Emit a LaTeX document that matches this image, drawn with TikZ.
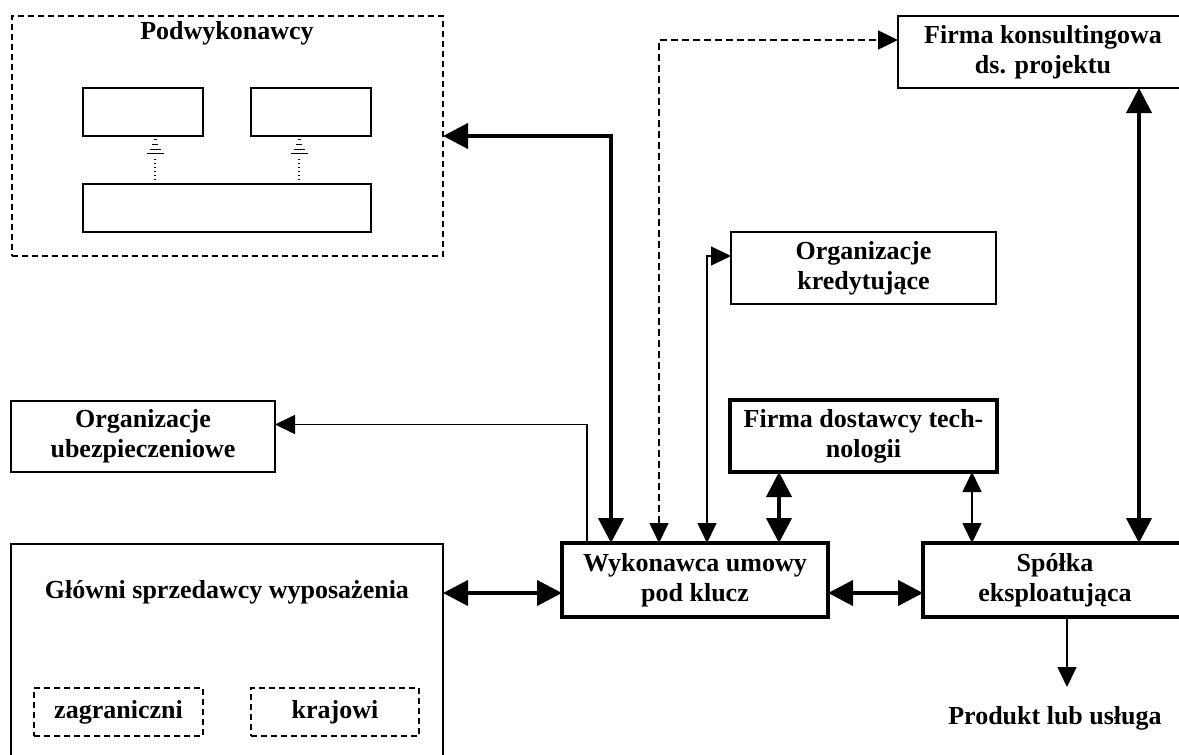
\documentclass[tikz,border=0pt]{standalone}
\usepackage{fontspec}
\setmainfont{Liberation Serif}
\usetikzlibrary{arrows.meta}

\begin{document}
\begin{tikzpicture}[x=1pt,y=-1pt,>={Triangle[length=20pt,width=19pt]},
    lab/.style={inner sep=0pt,align=center,font=\bfseries\fontsize{26}{30}\selectfont},
    box/.style={lab,draw,rectangle,line width=2pt,outer sep=0pt},
    thickbox/.style={box,line width=4pt},
    dashbox/.style={box,dash pattern=on 6pt off 4pt},
    thin/.style={line width=1.6pt},
    heavy/.style={line width=4pt,>={Triangle[length=25pt,width=25pt]}},
    dashlink/.style={line width=1.6pt,dash pattern=on 7pt off 4pt}]
    \useasboundingbox (0,0) rectangle (1179,755);

    \node[dashbox,minimum width=431pt,minimum height=240pt] (sub) at (227.5,136) {};
    \node[lab] (subt) at (227,33) {Podwykonawcy};
    \node[box,minimum width=120pt,minimum height=48pt] (sA) at (143,112) {};
    \node[box,minimum width=120pt,minimum height=48pt] (sB) at (311,112) {};
    \node[box,minimum width=288pt,minimum height=48pt] (sC) at (227,208) {};

    \node[box,minimum width=290pt,minimum height=72pt] (konsult) at (1043,52) {Firma konsultingowa\\ds. projektu};
    \node[box,minimum width=265pt,minimum height=72pt] (kred) at (863.5,268) {Organizacje\\kredytujące};
    \node[thickbox,minimum width=267pt,minimum height=72pt] (tech) at (863.5,436) {Firma dostawcy tech-\\nologii};
    \node[box,minimum width=264pt,minimum height=71pt] (ubezp) at (143,436.5) {Organizacje\\ubezpieczeniowe};
    \node[box,minimum width=432pt,minimum height=246pt] (glowni) at (227,667) {};
    \node[lab] (glownit) at (227,592) {Główni sprzedawcy wyposażenia};
    \node[dashbox,minimum width=169pt,minimum height=48pt] (zagr) at (118.5,712) {zagraniczni};
    \node[dashbox,minimum width=168pt,minimum height=48pt] (kraj) at (335,712) {krajowi};
    \node[thickbox,minimum width=266pt,minimum height=74pt] (wyk) at (695,580) {Wykonawca umowy\\pod klucz};
    \node[thickbox,minimum width=264pt,minimum height=74pt] (spolka) at (1055,580) {Spółka\\eksploatująca};
    \node[lab] (produkt) at (1055,718) {Produkt lub usługa};
    \coordinate (out) at (1067,687);

    \foreach \s/\d in {sA/12,sB/-12} {
        \draw[line width=1.2pt,dash pattern=on 1.5pt off 2.5pt] ([xshift=\d pt]\s.south |- sC.north) -- ++(0,-26);
        \foreach \h/\w in {3/3,8/6,13/11,17/17}
            \draw[line width=1pt] ([xshift=\d pt]\s.south) ++(-\w/2,\h) -- ++(\w,0);
    }

    \draw[heavy,<->] (sub.east) -| ([xshift=-84pt]wyk.north);
    \draw[dashlink,<->] ([xshift=-36pt]wyk.north) |- ([yshift=12pt]konsult.west);
    \draw[thin,->] ([xshift=-108pt]wyk.north) |- ([yshift=12pt]ubezp.east);
    \draw[thin,<->] ([xshift=12pt]wyk.north) |- ([yshift=12pt]kred.west);
    \draw[heavy,<->] ([xshift=-84.5pt]tech.south) -- ([xshift=-84.5pt]tech.south |- wyk.north);
    \draw[thin,<->] ([xshift=108.5pt]tech.south) -- ([xshift=108.5pt]tech.south |- spolka.north);
    \draw[heavy,<->] ([xshift=96pt]konsult.south) -- ([xshift=96pt]konsult.south |- spolka.north);
    \draw[heavy,<->] ([yshift=-13pt]wyk.west -| glowni.east) -- ([yshift=-13pt]wyk.west);
    \draw[heavy,<->] ([yshift=-13pt]wyk.east) -- ([yshift=-13pt]spolka.west);
    \draw[thin,->] ([xshift=12pt]spolka.south) -- (out);
\end{tikzpicture}
\end{document}
